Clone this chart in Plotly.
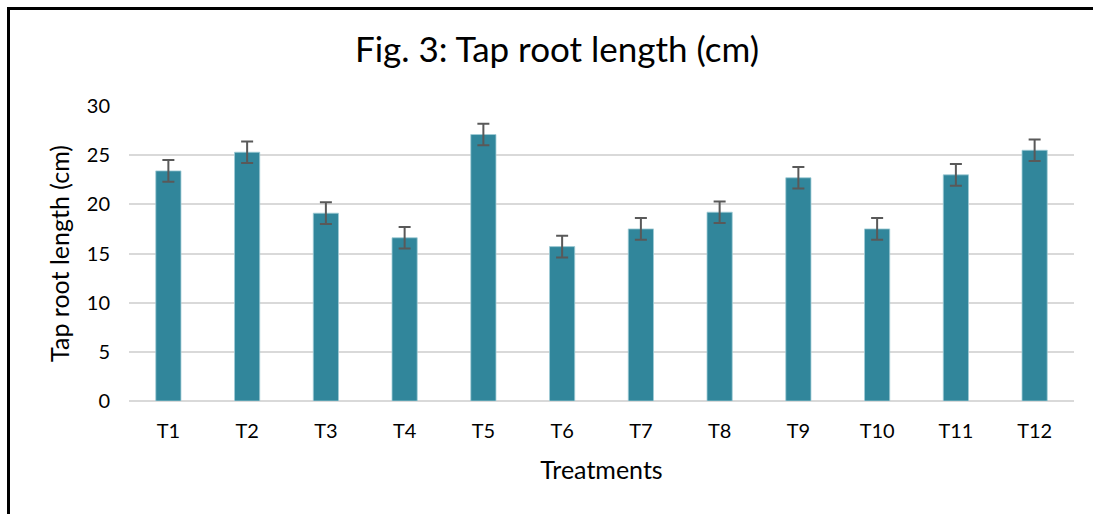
import plotly.graph_objects as go

categories = ["T1", "T2", "T3", "T4", "T5", "T6", "T7", "T8", "T9", "T10", "T11", "T12"]
values = [23.4, 25.3, 19.1, 16.6, 27.1, 15.7, 17.5, 19.2, 22.7, 17.5, 23.0, 25.5]
errors = [1.1, 1.1, 1.1, 1.1, 1.1, 1.1, 1.1, 1.1, 1.1, 1.1, 1.1, 1.1]
y_ticks = [0, 5, 10, 15, 20, 25, 30]

FONT = "Lato, Carlito, Calibri, sans-serif"

fig = go.Figure()
fig.add_trace(go.Bar(
    x=categories, y=values,
    marker=dict(color="#31869B", line=dict(color="#9fcbd6", width=0.8)),
    error_y=dict(type="data", array=errors, visible=True, color="#595959", thickness=2, width=6),
))

L, R, T, B = 129, 19, 106, 113
pw = 1093 - L - R
ph = 514 - T - B

fig.update_layout(
    width=1093, height=514,
    margin=dict(l=L, r=R, t=T, b=B),
    paper_bgcolor="white", plot_bgcolor="white",
    bargap=0.68,
    showlegend=False,
    font=dict(family=FONT, color="#000000"),
    title=dict(text="Fig. 3: Tap root length (cm)", x=557 / 1093, xanchor="center", y=1 - 50 / 514, yanchor="middle",
               font=dict(size=35, family=FONT, color="#000000")),
    xaxis=dict(showgrid=False, ticks="", tickfont=dict(size=20), showline=False, ticklabelstandoff=16,
               title=dict(text="Treatments", font=dict(size=25), standoff=20)),
    yaxis=dict(range=[0, 30], tickvals=y_ticks, gridcolor="#d9d9d9", gridwidth=1.5,
               zeroline=True, zerolinecolor="#d9d9d9", zerolinewidth=1.5,
               tickfont=dict(size=20), ticks="", ticklen=0, ticklabelstandoff=18,
               title=dict(text="Tap root length (cm)", font=dict(size=25), standoff=10)),
    shapes=[
        dict(type="line", xref="paper", yref="paper",
             x0=(8.5 - L) / pw, x1=(8.5 - L) / pw, y0=(514 - B - 8) / ph, y1=-(B + 5) / ph,
             line=dict(color="black", width=3)),
        dict(type="line", xref="paper", yref="paper",
             x0=(7 - L) / pw, x1=(1100 - L) / pw, y0=(514 - B - 8.5) / ph, y1=(514 - B - 8.5) / ph,
             line=dict(color="black", width=3)),
    ],
)

fig.write_html("out.html", config={"displayModeBar": False},
               post_script="document.body.style.margin='0';document.body.style.overflow='hidden';")
